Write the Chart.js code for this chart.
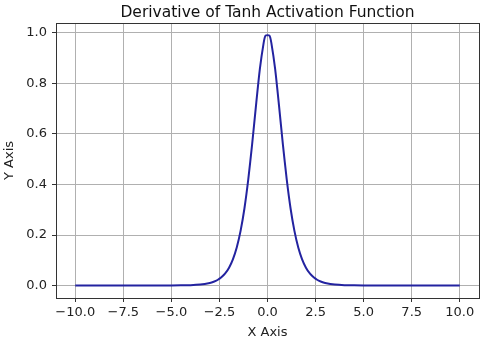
<!DOCTYPE html>
<html>
<head>
<meta charset="utf-8">
<script src="https://cdn.jsdelivr.net/npm/chart.js@4.4.1/dist/chart.umd.min.js"></script>
<style>
  html, body { margin: 0; padding: 0; background: #fff; }
  #wrap { width: 500px; height: 344px; }
</style>
</head>
<body>
<div id="wrap"><canvas id="tanhChart" width="500" height="344"></canvas></div>
<script>
// sampled points of the curve
const xValues = [-10, -8, -6, -5, -4, -3.5, -3, -2.8, -2.6, -2.4, -2.2, -2.0, -1.8, -1.6, -1.4, -1.2, -1.0, -0.8, -0.6, -0.4, -0.2, -0.1,
                 0.1, 0.2, 0.4, 0.6, 0.8, 1.0, 1.2, 1.4, 1.6, 1.8, 2.0, 2.2, 2.4, 2.6, 2.8, 3, 3.5, 4, 5, 6, 8, 10];
const yValues = [0.0000, 0.0000, 0.0000, 0.0002, 0.0013, 0.0036, 0.0099, 0.0147, 0.0218, 0.0325, 0.0479, 0.0707, 0.1036, 0.1505, 0.2162, 0.3050, 0.4200, 0.5591, 0.7116, 0.8556, 0.9610, 0.9901,
                 0.9901, 0.9610, 0.8556, 0.7116, 0.5591, 0.4200, 0.3050, 0.2162, 0.1505, 0.1036, 0.0707, 0.0479, 0.0325, 0.0218, 0.0147, 0.0099, 0.0036, 0.0013, 0.0002, 0.0000, 0.0000, 0.0000];

const xTicks = [-10, -7.5, -5, -2.5, 0, 2.5, 5, 7.5, 10];
const yTicks = [0, 0.2, 0.4, 0.6, 0.8, 1.0];

const chartTitle = 'Derivative of Tanh Activation Function';

const points = xValues.map((x, i) => ({ x: x, y: yValues[i] }));

// box around the plotting area, plus the title centred over it
const frame = {
    id: 'frame',
    afterDraw(chart) {
        const a = chart.chartArea;
        const ctx = chart.ctx;
        ctx.save();
        ctx.strokeStyle = '#333333';
        ctx.lineWidth = 1;
        ctx.strokeRect(Math.round(a.left) + 0.5, Math.round(a.top) + 0.5,
                       Math.round(a.right - a.left), Math.round(a.bottom - a.top));
        ctx.fillStyle = '#111111';
        ctx.font = "15.5px 'DejaVu Sans', sans-serif";
        ctx.textAlign = 'center';
        ctx.textBaseline = 'alphabetic';
        ctx.fillText(chartTitle, (a.left + a.right) / 2, 17);
        ctx.restore();
    }
};

Chart.defaults.font.family = "'DejaVu Sans', sans-serif";
Chart.defaults.color = '#222222';

new Chart(document.getElementById('tanhChart'), {
    type: 'line',
    data: {
        datasets: [{
            data: points,
            borderColor: '#2323a0',
            borderWidth: 2,
            pointRadius: 0,
            tension: 0.2,
            fill: false
        }]
    },
    options: {
        responsive: false,
        animation: false,
        layout: { padding: { left: 0, right: 21, top: 23, bottom: 0 } },
        plugins: {
            legend: { display: false },
            tooltip: { enabled: false },
            title: { display: false }
        },
        scales: {
            x: {
                type: 'linear',
                min: -11,
                max: 11,
                afterBuildTicks: s => { s.ticks = xTicks.map(v => ({ value: v })); },
                afterFit: s => { s.height = 46; },
                ticks: {
                    font: { size: 13 },
                    padding: 3,
                    maxRotation: 0,
                    callback: v => v.toFixed(1).replace('-', '\u2212')
                },
                grid: { color: '#b0b0b0', tickColor: '#333333', tickLength: 4, lineWidth: 1 },
                border: { display: true, color: '#333333' },
                title: { display: true, text: 'X Axis', font: { size: 13 }, padding: { top: 0, bottom: 4 } }
            },
            y: {
                type: 'linear',
                min: -0.0495,
                max: 1.0396,
                afterBuildTicks: s => { s.ticks = yTicks.map(v => ({ value: v })); },
                afterFit: s => { s.width = 56; },
                ticks: {
                    font: { size: 13 },
                    padding: 5,
                    callback: v => v.toFixed(1)
                },
                grid: { color: '#b0b0b0', tickColor: '#333333', tickLength: 4, lineWidth: 1 },
                border: { display: true, color: '#333333' },
                title: { display: true, text: 'Y Axis', font: { size: 13 }, padding: { top: 2, bottom: 0 } }
            }
        }
    },
    plugins: [frame]
});
</script>
</body>
</html>
